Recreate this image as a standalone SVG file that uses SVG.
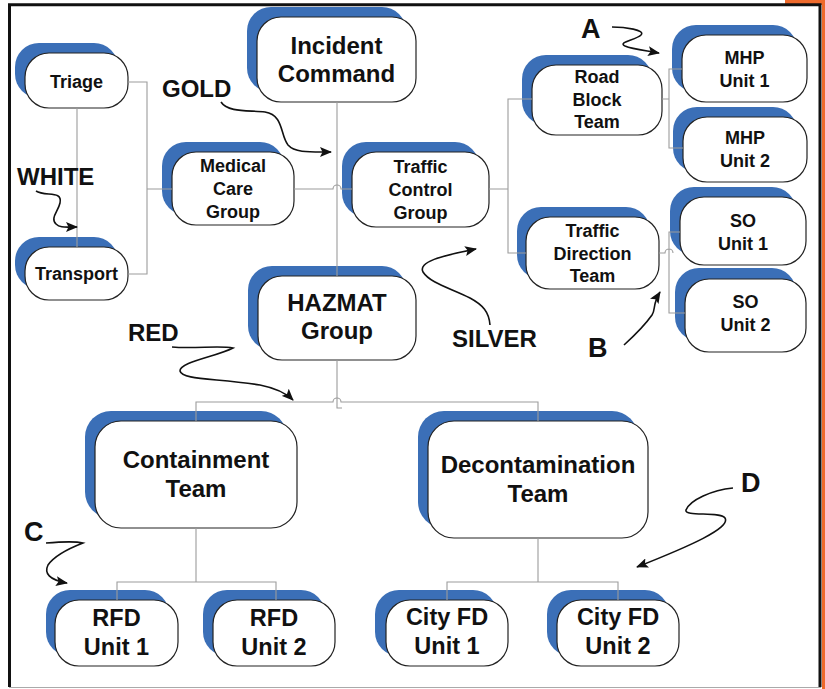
<svg xmlns="http://www.w3.org/2000/svg" width="825" height="689" viewBox="0 0 825 689">
<defs>
<style>
.sh{fill:#3B6FB7}
.bx{fill:#fff;stroke:#222;stroke-width:1.2}
.t{font-family:"Liberation Sans",Arial,sans-serif;font-weight:bold;fill:#111;text-anchor:middle}
.s18{font-size:18px}
.s23{font-size:23.5px}
.s24{font-size:24px}
.lab{font-family:"Liberation Sans",Arial,sans-serif;font-weight:bold;fill:#111;font-size:24px}
.big{font-size:27px}
.cn{fill:none;stroke:#9c9c9c;stroke-width:1.1}
.ar{fill:none;stroke:#111;stroke-width:1.6}
</style>
<marker id="ah" viewBox="0 0 12 10" refX="11" refY="5" markerWidth="12" markerHeight="10" markerUnits="userSpaceOnUse" orient="auto">
<path d="M0,0 L12,5 L0,10 L2.5,5 z" fill="#111"/>
</marker>
</defs>
<rect x="0" y="0" width="825" height="689" fill="#fff"/>
<rect x="785" y="0" width="40" height="5" fill="#EE6A2C"/>
<rect x="822" y="0" width="3" height="689" fill="#EE6A2C"/>
<path d="M9.5,687 V4.8 H820 V687" fill="none" stroke="#111" stroke-width="3"/>
<line x1="9" y1="687.5" x2="821" y2="687.5" stroke="#aaa" stroke-width="1"/>

<g id="n-triage"><rect class="sh" x="15" y="43" width="103" height="55" rx="24"/><rect class="bx" x="25" y="53" width="103" height="55" rx="24"/><text class="t s18" x="76.5" y="87.5">Triage</text></g>
<g id="n-transport"><rect class="sh" x="15" y="237" width="103" height="52" rx="24"/><rect class="bx" x="25" y="247" width="103" height="53" rx="24"/><text class="t s18" x="76.5" y="280">Transport</text></g>
<g id="n-medical"><rect class="sh" x="162" y="142" width="122" height="73" rx="24"/><rect class="bx" x="172" y="152" width="122" height="73" rx="24"/><text class="t s18" x="233" y="172">Medical</text><text class="t s18" x="233" y="195">Care</text><text class="t s18" x="233" y="218">Group</text></g>
<g id="n-incident"><rect class="sh" x="247" y="7" width="159" height="85" rx="24"/><rect class="bx" x="257" y="17" width="159" height="85" rx="24"/><text class="t s24" x="336.5" y="54">Incident</text><text class="t s24" x="336.5" y="82">Command</text></g>
<g id="n-traffic-control"><rect class="sh" x="342" y="142" width="137" height="75" rx="24"/><rect class="bx" x="352" y="152" width="137" height="75" rx="24"/><text class="t s18" x="420.5" y="173">Traffic</text><text class="t s18" x="420.5" y="196">Control</text><text class="t s18" x="420.5" y="219">Group</text></g>
<g id="n-roadblock"><rect class="sh" x="522" y="55" width="130" height="70" rx="24"/><rect class="bx" x="532" y="65" width="130" height="70" rx="24"/><text class="t s18" x="597" y="83">Road</text><text class="t s18" x="597" y="106">Block</text><text class="t s18" x="597" y="128">Team</text></g>
<g id="n-mhp1"><rect class="sh" x="672" y="25" width="125" height="67" rx="24"/><rect class="bx" x="682" y="35" width="125" height="67" rx="24"/><text class="t s18" x="744.5" y="64">MHP</text><text class="t s18" x="744.5" y="87">Unit 1</text></g>
<g id="n-mhp2"><rect class="sh" x="673" y="107" width="124" height="65" rx="24"/><rect class="bx" x="683" y="117" width="124" height="65" rx="24"/><text class="t s18" x="745" y="144">MHP</text><text class="t s18" x="745" y="167">Unit 2</text></g>
<g id="n-tdt"><rect class="sh" x="517" y="207" width="133" height="72" rx="24"/><rect class="bx" x="526" y="217" width="133" height="72" rx="24"/><text class="t s18" x="592.5" y="237">Traffic</text><text class="t s18" x="592.5" y="259.5">Direction</text><text class="t s18" x="592.5" y="282">Team</text></g>
<g id="n-so1"><rect class="sh" x="670" y="187" width="126" height="68" rx="24"/><rect class="bx" x="680" y="197" width="126" height="68" rx="24"/><text class="t s18" x="743" y="227">SO</text><text class="t s18" x="743" y="250">Unit 1</text></g>
<g id="n-so2"><rect class="sh" x="675" y="268" width="121" height="73" rx="24"/><rect class="bx" x="685" y="279" width="121" height="73" rx="24"/><text class="t s18" x="745.5" y="308">SO</text><text class="t s18" x="745.5" y="331">Unit 2</text></g>
<g id="n-hazmat"><rect class="sh" x="248" y="266" width="158" height="84" rx="24"/><rect class="bx" x="258" y="276" width="158" height="84" rx="24"/><text class="t s24" x="337" y="311">HAZMAT</text><text class="t s24" x="337" y="339">Group</text></g>
<g id="n-containment"><rect class="sh" x="85" y="411" width="202" height="107" rx="26"/><rect class="bx" x="95" y="421" width="202" height="107" rx="26"/><text class="t s24" x="196" y="468">Containment</text><text class="t s24" x="196" y="497">Team</text></g>
<g id="n-decon"><rect class="sh" x="418" y="411" width="220" height="117" rx="26"/><rect class="bx" x="428" y="421" width="220" height="117" rx="26"/><text class="t s24" x="538" y="473">Decontamination</text><text class="t s24" x="538" y="502">Team</text></g>
<g id="n-rfd1"><rect class="sh" x="46" y="590" width="123" height="66" rx="24"/><rect class="bx" x="55" y="600" width="123" height="66" rx="24"/><text class="t s23" x="116.5" y="626">RFD</text><text class="t s23" x="116.5" y="655">Unit 1</text></g>
<g id="n-rfd2"><rect class="sh" x="203" y="590" width="122" height="66" rx="24"/><rect class="bx" x="213" y="600" width="122" height="66" rx="24"/><text class="t s23" x="274" y="626">RFD</text><text class="t s23" x="274" y="655">Unit 2</text></g>
<g id="n-cityfd1"><rect class="sh" x="375" y="590" width="122" height="66" rx="24"/><rect class="bx" x="386" y="600" width="122" height="66" rx="24"/><text class="t s23" x="447" y="625">City FD</text><text class="t s23" x="447" y="654">Unit 1</text></g>
<g id="n-cityfd2"><rect class="sh" x="547" y="590" width="122" height="66" rx="24"/><rect class="bx" x="557" y="600" width="122" height="66" rx="24"/><text class="t s23" x="618" y="625">City FD</text><text class="t s23" x="618" y="654">Unit 2</text></g>

<g id="connectors">
<path class="cn" d="M77,108 V247"/>
<path class="cn" d="M128,82 H147 V274 H128 M147,189 H172"/>
<path class="cn" d="M294,189 H333 A4,4 0 0 1 341,189 H352"/>
<path class="cn" d="M337,102 V276"/>
<path class="cn" d="M489,189 H508 M532,99 H508 V253 H526"/>
<path class="cn" d="M662,99 H669 M682,69 H669 V148 H683"/>
<path class="cn" d="M659,253 H665 A4,4 0 0 1 673,253 M680,232 H669 V313 H685"/>
<path class="cn" d="M337,360 V408 H342"/>
<path class="cn" d="M196,421 V402 H333 A4,4 0 0 1 341,402 H538 V421"/>
<path class="cn" d="M196,528 V582 M117,600 V582 H276 V600"/>
<path class="cn" d="M538,538 V582 M447,600 V582 H618 V600"/>
</g>

<g id="annotations">
<text class="lab" x="162" y="97">GOLD</text>
<path class="ar" marker-end="url(#ah)" d="M221,102 C228,113 250,110 265,112 C284,115 280,135 288,145 C295,153 310,152 331,152"/>
<text class="lab" x="17" y="185">WHITE</text>
<path class="ar" marker-end="url(#ah)" d="M36,191 C45,197 63,190 60,203 C58,212 50,218 56,224 C60,228 65,227 77,227"/>
<text class="lab big" x="581" y="38">A</text>
<path class="ar" marker-end="url(#ah)" d="M612,27 C625,27 646,30 641,35 C636,40 617,42 625,46 C632,49 642,50 659,53"/>
<text class="lab big" x="588" y="357">B</text>
<path class="ar" marker-end="url(#ah)" d="M624,345 C635,335 645,325 652,315 C656,309 652,305 660,292"/>
<text class="lab" x="452" y="347">SILVER</text>
<path class="ar" marker-end="url(#ah)" d="M490,325 C489,312 483,305 470,298 C450,288 430,283 423,272 C418,262 440,256 476,249"/>
<text class="lab" x="128" y="341">RED</text>
<path class="ar" marker-end="url(#ah)" d="M172,347 C195,349 220,345 233,348 C215,357 180,362 180,371 C182,380 215,378 260,385 C275,388 285,392 293,400"/>
<text class="lab big" x="24" y="541">C</text>
<path class="ar" marker-end="url(#ah)" d="M46,543 C58,542 75,541 83,543 C70,548 55,555 48,565 C44,573 49,580 67,583"/>
<text class="lab big" x="741" y="492">D</text>
<path class="ar" marker-end="url(#ah)" d="M733,488 C712,490 690,500 686,510 C684,517 720,511 725,518 C731,528 690,546 637,567"/>
</g>
</svg>
